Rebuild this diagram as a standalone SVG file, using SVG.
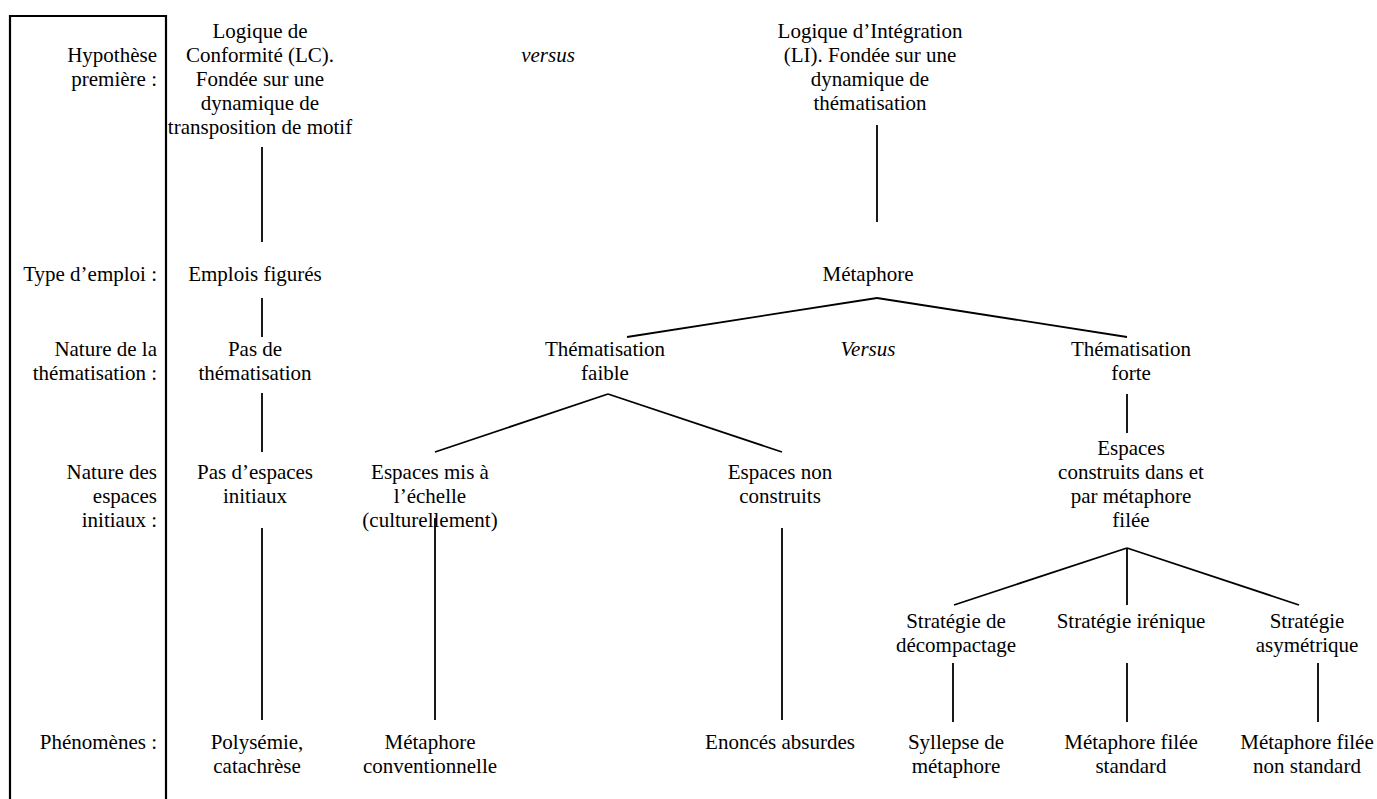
<svg xmlns="http://www.w3.org/2000/svg" width="1377" height="799" viewBox="0 0 1377 799">
<style>
text{font-family:"Liberation Serif","Times New Roman",serif;font-size:21px;fill:#000}
.c{text-anchor:middle}
.r{text-anchor:end}
.i{font-style:italic}
line{stroke:#000;stroke-width:1.8;fill:none}
.frame{stroke:#000;stroke-width:2.2;fill:none}
</style>
<rect width="1377" height="799" fill="#fff"/>
<g id="frame">
<polyline class="frame" points="10,799 10,16 166,16 166,799"/>
</g>
<g id="labels">
<text class="r" x="157" y="62">Hypothèse</text>
<text class="r" x="157" y="86">première :</text>
<text class="r" x="157" y="281">Type d’emploi :</text>
<text class="r" x="157" y="356">Nature de la</text>
<text class="r" x="157" y="380">thématisation :</text>
<text class="r" x="157" y="479">Nature des</text>
<text class="r" x="157" y="503">espaces</text>
<text class="r" x="157" y="527">initiaux :</text>
<text class="r" x="157" y="749">Phénomènes :</text>
</g>
<g id="lc">
<text class="c" x="260" y="38">Logique de</text>
<text class="c" x="260" y="62">Conformité (LC).</text>
<text class="c" x="260" y="86">Fondée sur une</text>
<text class="c" x="260" y="110">dynamique de</text>
<text class="c" x="260" y="134">transposition de motif</text>
</g>
<g id="versus1"><text class="c i" x="548" y="62">versus</text></g>
<g id="li">
<text class="c" x="870" y="38">Logique d’Intégration</text>
<text class="c" x="870" y="62">(LI). Fondée sur une</text>
<text class="c" x="870" y="86">dynamique de</text>
<text class="c" x="870" y="110">thématisation</text>
</g>
<g id="emplois"><text class="c" x="255" y="281">Emplois figurés</text></g>
<g id="metaphore"><text class="c" x="868" y="281">Métaphore</text></g>
<g id="pas-them">
<text class="c" x="255" y="356">Pas de</text>
<text class="c" x="255" y="380">thématisation</text>
</g>
<g id="them-faible">
<text class="c" x="605" y="356">Thématisation</text>
<text class="c" x="605" y="380">faible</text>
</g>
<g id="versus2"><text class="c i" x="868" y="356">Versus</text></g>
<g id="them-forte">
<text class="c" x="1131" y="356">Thématisation</text>
<text class="c" x="1131" y="380">forte</text>
</g>
<g id="pas-espaces">
<text class="c" x="255" y="479">Pas d’espaces</text>
<text class="c" x="255" y="503">initiaux</text>
</g>
<g id="espaces-echelle">
<text class="c" x="430" y="479">Espaces mis à</text>
<text class="c" x="430" y="503">l’échelle</text>
<text class="c" x="430" y="527">(culturellement)</text>
</g>
<g id="espaces-non">
<text class="c" x="780" y="479">Espaces non</text>
<text class="c" x="780" y="503">construits</text>
</g>
<g id="espaces-construits">
<text class="c" x="1131" y="455">Espaces</text>
<text class="c" x="1131" y="479">construits dans et</text>
<text class="c" x="1131" y="503">par métaphore</text>
<text class="c" x="1131" y="527">filée</text>
</g>
<g id="strat-decomp">
<text class="c" x="956" y="628">Stratégie de</text>
<text class="c" x="956" y="652">décompactage</text>
</g>
<g id="strat-irenique"><text class="c" x="1131" y="628">Stratégie irénique</text></g>
<g id="strat-asym">
<text class="c" x="1307" y="628">Stratégie</text>
<text class="c" x="1307" y="652">asymétrique</text>
</g>
<g id="polysemie">
<text class="c" x="257" y="749">Polysémie,</text>
<text class="c" x="257" y="773">catachrèse</text>
</g>
<g id="met-conv">
<text class="c" x="430" y="749">Métaphore</text>
<text class="c" x="430" y="773">conventionnelle</text>
</g>
<g id="enonces"><text class="c" x="780" y="749">Enoncés absurdes</text></g>
<g id="syllepse">
<text class="c" x="956" y="749">Syllepse de</text>
<text class="c" x="956" y="773">métaphore</text>
</g>
<g id="mf-standard">
<text class="c" x="1131" y="749">Métaphore filée</text>
<text class="c" x="1131" y="773">standard</text>
</g>
<g id="mf-nonstandard">
<text class="c" x="1307" y="749">Métaphore filée</text>
<text class="c" x="1307" y="773">non standard</text>
</g>
<g id="connectors">
<line x1="262" y1="147" x2="262" y2="242"/>
<line x1="877" y1="125" x2="877" y2="222"/>
<line x1="262" y1="298" x2="262" y2="337"/>
<line x1="877" y1="298" x2="627" y2="337"/>
<line x1="877" y1="298" x2="1127" y2="337"/>
<line x1="262" y1="393" x2="262" y2="452"/>
<line x1="608" y1="394" x2="435" y2="452"/>
<line x1="608" y1="394" x2="782" y2="452"/>
<line x1="1127" y1="394" x2="1127" y2="433"/>
<line x1="262" y1="528" x2="262" y2="720"/>
<line x1="435" y1="518" x2="435" y2="720"/>
<line x1="782" y1="528" x2="782" y2="720"/>
<line x1="1127" y1="548" x2="954" y2="605"/>
<line x1="1127" y1="548" x2="1127" y2="605"/>
<line x1="1127" y1="548" x2="1299" y2="605"/>
<line x1="953" y1="663" x2="953" y2="722"/>
<line x1="1127" y1="663" x2="1127" y2="722"/>
<line x1="1318" y1="663" x2="1318" y2="722"/>
</g>
</svg>
